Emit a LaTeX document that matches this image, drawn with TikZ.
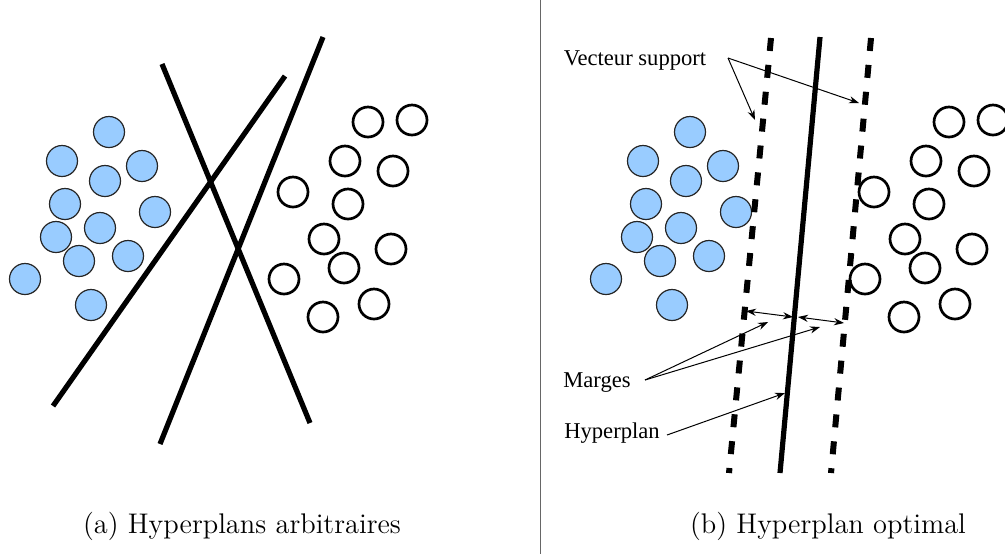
\documentclass[tikz,border=0pt]{standalone}
\usepackage{fontspec}
\newfontfamily\labfont{Liberation Serif}
\usetikzlibrary{arrows.meta}
\definecolor{ptblue}{HTML}{99CCFF}
\begin{document}
\begin{tikzpicture}[x=0.5pt,y=-0.5pt,
  bluept/.style={circle,draw=black!85,line width=0.6pt,fill=ptblue,minimum size=15.5pt,inner sep=0pt},
  whitept/.style={circle,draw=black,line width=1.35pt,fill=white,minimum size=15pt,inner sep=0pt},
  hyper/.style={line width=2.6pt,line cap=butt},
  marginline/.style={line width=3pt,dash pattern=on 6.5pt off 7pt},
  callout/.style={line width=0.5pt,-{Stealth[length=5pt,width=3.6pt]}},
  twoway/.style={line width=0.5pt,{Stealth[length=5pt,width=3.6pt]}-{Stealth[length=5pt,width=3.6pt]}},
  labeltext/.style={font=\labfont\fontsize{11.3}{13}\selectfont,inner sep=0pt,anchor=base},
  captiontext/.style={font=\fontsize{14.2}{17}\selectfont,inner sep=0pt,anchor=base}
]
\useasboundingbox (0,0) rectangle (1005,554);

% divider
\coordinate (divtop) at (540,0);
\coordinate (divbot) at (540,554);
\draw[black!60,line width=0.5pt] (divtop) -- (divbot);

% ---------- left panel ----------
\foreach \x/\y [count=\i] in {109/132,62/161,142/166,105/181,65/204,155/212,100/228,56/237,79/261,128/256,25/279,91/305}
  \node[bluept] (la\i) at (\x,\y) {};
\foreach \x/\y [count=\i] in {368/122,412/120,345/161,393/171,293/192,348/204,324/239,391/249,344/268,284/279,374/304,323/317}
  \node[whitept] (lw\i) at (\x,\y) {};

\coordinate (h1a) at (162,64);  \coordinate (h1b) at (310,423);
\coordinate (h2a) at (285,76);  \coordinate (h2b) at (53,406);
\coordinate (h3a) at (323,37);  \coordinate (h3b) at (160,444);
\draw[hyper] (h1a) -- (h1b);
\draw[hyper] (h2a) -- (h2b);
\draw[hyper] (h3a) -- (h3b);

\node[captiontext] (capa) at (242,533) {(a) Hyperplans arbitraires};

% ---------- right panel ----------
\foreach \x/\y [count=\i] in {109/132,62/161,142/166,105/181,65/204,155/212,100/228,56/237,79/261,128/256,25/279,91/305}
  \node[bluept] (ra\i) at (\x+581,\y) {};
\foreach \x/\y [count=\i] in {368/122,412/120,345/161,393/171,293/192,348/204,324/239,391/249,344/268,284/279,374/304,323/317}
  \node[whitept] (rw\i) at (\x+581,\y) {};

\coordinate (opta) at (820,37);  \coordinate (optb) at (780,473);
\coordinate (mla) at (771,38);   \coordinate (mlb) at (729,473);
\coordinate (mra) at (871,38);   \coordinate (mrb) at (831,473);
\draw[marginline] (mla) -- (mlb);
\draw[marginline] (mra) -- (mrb);
\draw[hyper] (opta) -- (optb);

% margin double arrows
\coordinate (m1) at (746,311);
\coordinate (m2) at (793,317);
\coordinate (m3) at (798,317);
\coordinate (m4) at (844,323);
\draw[twoway] (m1) -- (m2);
\draw[twoway] (m3) -- (m4);

% labels
\node[labeltext] (vs) at (635,65) {Vecteur support};
\node[labeltext] (mg) at (597,387) {Marges};
\node[labeltext] (hp) at (612,438) {Hyperplan};

\coordinate (vsfrom) at (728,58);
\coordinate (vsto1) at (755,120);
\coordinate (vsto2) at (859,103);
\draw[callout] (vsfrom) -- (vsto1);
\draw[callout] (vsfrom) -- (vsto2);

\coordinate (mgfrom) at (645,380);
\coordinate (mgto1) at (768,322);
\coordinate (mgto2) at (820,327);
\draw[callout] (mgfrom) -- (mgto1);
\draw[callout] (mgfrom) -- (mgto2);

\coordinate (hpfrom) at (667,435);
\coordinate (hpto) at (785,393);
\draw[callout] (hpfrom) -- (hpto);

\node[captiontext] (capb) at (828,533) {(b) Hyperplan optimal};
\end{tikzpicture}
\end{document}
